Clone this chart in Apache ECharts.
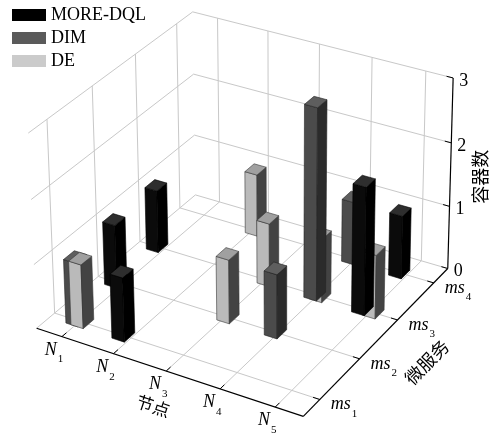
<!DOCTYPE html>
<html lang="zh">
<head>
    <meta charset="UTF-8">
    <title>容器分布</title>
    <script src="https://cdn.jsdelivr.net/npm/echarts@6/dist/echarts.min.js"></script>
    <style>
        html, body {margin: 0; padding: 0; background: #fff;}
        #main {width: 491px; height: 434px;}
    </style>
</head>
<body>
<div id="main"></div>
<script>
    // 节点 / 微服务 刻度（下标）
    var nodeLabels = ['1', '2', '3', '4', '5'];
    var msLabels = ['1', '2', '3', '4'];
    var zTicks = [0, 1, 2, 3];

    // [节点, 微服务, 容器数]
    var moreDql = [[2, 1, 1], [1, 2, 1], [1, 3, 1], [5, 3, 2], [5, 4, 1]];
    var dim = [[1, 1, 1], [4, 2, 1], [4, 3, 3], [4, 4, 1]];
    var de = [[1, 1, 1], [3, 2, 1], [3, 3, 1], [2, 4, 1], [4, 3, 1], [5, 3, 1]];

    // axis box (data units)
    var xMin = 0.5, xMax = 5.5, yMin = 0.6, yMax = 4.4, zMax = 3;
    var barW = 0.24;

    // view calibration: box corners / tick marks -> pixels, solved as a pinhole camera
    var calib = [
        [xMin, yMin, 0, 37, 327], [xMin, yMin, 3, 28, 132],
        [xMin, yMax, 0, 193, 195], [xMin, yMax, 3, 192, 13],
        [xMax, yMax, 3, 453, 78], [xMax, yMax, 0, 449, 267],
        [xMax, yMin, 0, 303, 415],
        [1, yMin, 0, 63, 338], [3, yMin, 0, 167, 371], [5, yMin, 0, 276, 406],
        [xMax, 1, 0, 320, 402], [xMax, 2, 0, 358, 359], [xMax, 3, 0, 397, 321], [xMax, 4, 0, 434, 283],
        [xMax, yMax, 1, 450, 206], [xMax, yMax, 2, 451, 143],
        [1, yMax, 3, 218, 19], [5, yMax, 3, 425, 71],
        [xMin, 1, 3, 45, 120], [xMin, 4, 3, 180, 22]
    ];

    function solveCamera(pts) {
        var n = 11, M = [], r = [], i, j, c;
        for (i = 0; i < n; i++) { M.push(new Array(n).fill(0)); r.push(0); }
        pts.forEach(function (p) {
            var X = p[0], Y = p[1], Z = p[2], u = p[3], v = p[4];
            [[[X, Y, Z, 1, 0, 0, 0, 0, -u * X, -u * Y, -u * Z], u],
             [[0, 0, 0, 0, X, Y, Z, 1, -v * X, -v * Y, -v * Z], v]].forEach(function (row) {
                var a = row[0];
                for (i = 0; i < n; i++) {
                    for (j = 0; j < n; j++) M[i][j] += a[i] * a[j];
                    r[i] += a[i] * row[1];
                }
            });
        });
        for (c = 0; c < n; c++) {
            var piv = c;
            for (i = c + 1; i < n; i++) if (Math.abs(M[i][c]) > Math.abs(M[piv][c])) piv = i;
            var t = M[c]; M[c] = M[piv]; M[piv] = t;
            t = r[c]; r[c] = r[piv]; r[piv] = t;
            for (i = c + 1; i < n; i++) {
                var f = M[i][c] / M[c][c];
                for (j = c; j < n; j++) M[i][j] -= f * M[c][j];
                r[i] -= f * r[c];
            }
        }
        var x = new Array(n);
        for (i = n - 1; i >= 0; i--) {
            var s = r[i];
            for (j = i + 1; j < n; j++) s -= M[i][j] * x[j];
            x[i] = s / M[i][i];
        }
        return x;
    }
    var P = solveCamera(calib);

    function proj(X, Y, Z) {
        var w = P[8] * X + P[9] * Y + P[10] * Z + 1;
        return [(P[0] * X + P[1] * Y + P[2] * Z + P[3]) / w,
                (P[4] * X + P[5] * Y + P[6] * Z + P[7]) / w, w];
    }
    var depthSign = proj(xMin, yMax, 0)[2] > proj(xMax, yMin, 0)[2] ? 1 : -1;

    var seriesDefs = [
        {name: 'MORE-DQL', data: moreDql, off: -0.15, color: '#000000',
            faces: ['#0b0b0b', '#000000', '#2e2e2e'], edge: '#000000'},
        {name: 'DIM', data: dim, off: -0.05, color: '#5a5a5a',
            faces: ['#4b4b4b', '#2b2b2b', '#5e5e5e'], edge: '#232323'},
        {name: 'DE', data: de, off: 0.05, color: '#cbcbcb',
            faces: ['#bababa', '#434343', '#a0a0a0'], edge: '#383838'}
    ];

    // painter's order over all bars, by depth of each bar's centre (far first)
    var allBars = [];
    seriesDefs.forEach(function (s, si) {
        s.data.forEach(function (d, di) {
            allBars.push({si: si, di: di, depth: depthSign * proj(d[0] + s.off, d[1], d[2] / 2)[2]});
        });
    });
    allBars.sort(function (a, b) { return b.depth - a.depth; });
    var order = seriesDefs.map(function (s) { return s.data.map(function () { return 0; }); });
    allBars.forEach(function (b, k) { order[b.si][b.di] = k; });

    function pt(X, Y, Z) { var p = proj(X, Y, Z); return [p[0], p[1]]; }

    function barRenderer(s) {
        return function (params, api) {
            var cx = api.value(0) + s.off, cy = api.value(1), v = api.value(2), ord = api.value(3);
            var h = barW / 2;
            var x0 = cx - h, x1 = cx + h, y0 = cy - h, y1 = cy + h;
            var faces = [
                [pt(x0, y0, 0), pt(x1, y0, 0), pt(x1, y0, v), pt(x0, y0, v)],
                [pt(x1, y0, 0), pt(x1, y1, 0), pt(x1, y1, v), pt(x1, y0, v)],
                [pt(x0, y0, v), pt(x1, y0, v), pt(x1, y1, v), pt(x0, y1, v)]
            ];
            return {
                type: 'group',
                children: faces.map(function (f, k) {
                    return {
                        type: 'polygon', z2: 10 + ord * 4 + k,
                        shape: {points: f},
                        style: {fill: s.faces[k], stroke: s.edge, lineWidth: 0.6, lineJoin: 'round'}
                    };
                })
            };
        };
    }

    var gridColor = '#c8c8c8';
    var serif = '"Liberation Serif", "DejaVu Serif", serif';
    var cjk = '"Noto Sans CJK SC", sans-serif';

    function seg(a, b, color, width) {
        return {
            type: 'line', shape: {x1: a[0], y1: a[1], x2: b[0], y2: b[1]},
            style: {stroke: color, lineWidth: width}
        };
    }

    function subText(x, y, main, sub, align) {
        return {
            type: 'text', x: x, y: y,
            style: {
                text: '{a|' + main + '}{b|' + sub + '}',
                align: align, verticalAlign: 'middle',
                rich: {
                    a: {fontFamily: serif, fontStyle: 'italic', fontSize: 18, lineHeight: 18,
                        verticalAlign: 'top', fill: '#000'},
                    b: {fontFamily: serif, fontSize: 11, lineHeight: 12, padding: [13, 0, 0, 1],
                        verticalAlign: 'top', fill: '#000'}
                }
            }
        };
    }

    function frameRenderer(params, api) {
        var ch = [];
        // floor grid
        nodeLabels.forEach(function (l, i) {
            ch.push(seg(pt(i + 1, yMin, 0), pt(i + 1, yMax, 0), gridColor, 1));
        });
        msLabels.forEach(function (l, j) {
            ch.push(seg(pt(xMin, j + 1, 0), pt(xMax, j + 1, 0), gridColor, 1));
        });
        // left wall
        msLabels.forEach(function (l, j) {
            ch.push(seg(pt(xMin, j + 1, 0), pt(xMin, j + 1, zMax), gridColor, 1));
        });
        // back wall
        nodeLabels.forEach(function (l, i) {
            ch.push(seg(pt(i + 1, yMax, 0), pt(i + 1, yMax, zMax), gridColor, 1));
        });
        zTicks.forEach(function (t) {
            ch.push(seg(pt(xMin, yMin, t), pt(xMin, yMax, t), gridColor, 1));
            ch.push(seg(pt(xMin, yMax, t), pt(xMax, yMax, t), gridColor, 1));
        });
        // axis lines
        ch.push(seg(pt(xMin, yMin, 0), pt(xMax, yMin, 0), '#000', 1.2));
        ch.push(seg(pt(xMax, yMin, 0), pt(xMax, yMax, 0), '#000', 1.2));
        ch.push(seg(pt(xMax, yMax, 0), pt(xMax, yMax, zMax), '#000', 1.2));
        // ticks + labels
        nodeLabels.forEach(function (l, i) {
            var a = pt(i + 1, yMin, 0);
            ch.push(seg(a, pt(i + 1, yMin + 0.1, 0), '#000', 1));
            ch.push(subText(a[0] - 8, a[1] + 13.5, 'N', l, 'center'));
        });
        msLabels.forEach(function (l, j) {
            var a = pt(xMax, j + 1, 0);
            ch.push(seg(a, pt(xMax - 0.12, j + 1, 0), '#000', 1));
            ch.push(subText(a[0] + 11, a[1] + 5, 'ms', l, 'left'));
        });
        zTicks.forEach(function (t) {
            var a = pt(xMax, yMax, t);
            ch.push(seg(a, pt(xMax - 0.12, yMax, t), '#000', 1));
            ch.push({
                type: 'text', x: a[0] + 6, y: a[1] + 3,
                style: {text: String(t), fontFamily: serif, fontSize: 18, fill: '#000',
                    align: 'left', verticalAlign: 'middle'}
            });
        });
        // axis titles
        var nA = pt(xMin, yMin, 0), nB = pt(xMax, yMin, 0);
        var mA = pt(xMax, yMin, 0), mB = pt(xMax, yMax, 0);
        var nPos = pt(3, yMin, 0), mPos = pt(xMax, 2.5, 0), zPos = pt(xMax, yMax, 1.5);
        ch.push({
            type: 'text', x: nPos[0] - 13, y: nPos[1] + 35,
            rotation: -Math.atan2(nB[1] - nA[1], nB[0] - nA[0]),
            style: {text: '节点', fontFamily: cjk, fontSize: 17, fill: '#000', align: 'center', verticalAlign: 'middle'}
        });
        ch.push({
            type: 'text', x: mPos[0] + 48, y: mPos[1] + 23,
            rotation: -Math.atan2(mB[1] - mA[1], mB[0] - mA[0]),
            style: {text: '微服务', fontFamily: cjk, fontSize: 18, fill: '#000', align: 'center', verticalAlign: 'middle'}
        });
        ch.push({
            type: 'text', x: zPos[0] + 30, y: zPos[1] + 2, rotation: Math.PI / 2,
            style: {text: '容器数', fontFamily: cjk, fontSize: 18, fill: '#000', align: 'center', verticalAlign: 'middle'}
        });
        return {type: 'group', children: ch};
    }

    var series = [{
        type: 'custom', name: 'frame', coordinateSystem: 'none', silent: true, z: 1,
        data: [[0]], renderItem: frameRenderer
    }];
    seriesDefs.forEach(function (s, si) {
        series.push({
            type: 'custom', name: s.name, coordinateSystem: 'none', silent: true, z: 2,
            itemStyle: {color: s.color},
            data: s.data.map(function (d, di) { return [d[0], d[1], d[2], order[si][di]]; }),
            renderItem: barRenderer(s)
        });
    });

    var myChart = echarts.init(document.getElementById('main'));
    var option = {
        backgroundColor: '#fff',
        animation: false,
        legend: {
            data: ['MORE-DQL', 'DIM', 'DE'],
            orient: 'vertical', left: 7, top: 1,
            icon: 'rect', itemWidth: 34, itemHeight: 12, itemGap: 5,
            selectedMode: false,
            textStyle: {fontFamily: serif, fontSize: 18, color: '#000'}
        },
        series: series
    };
    myChart.setOption(option);
</script>
</body>
</html>
